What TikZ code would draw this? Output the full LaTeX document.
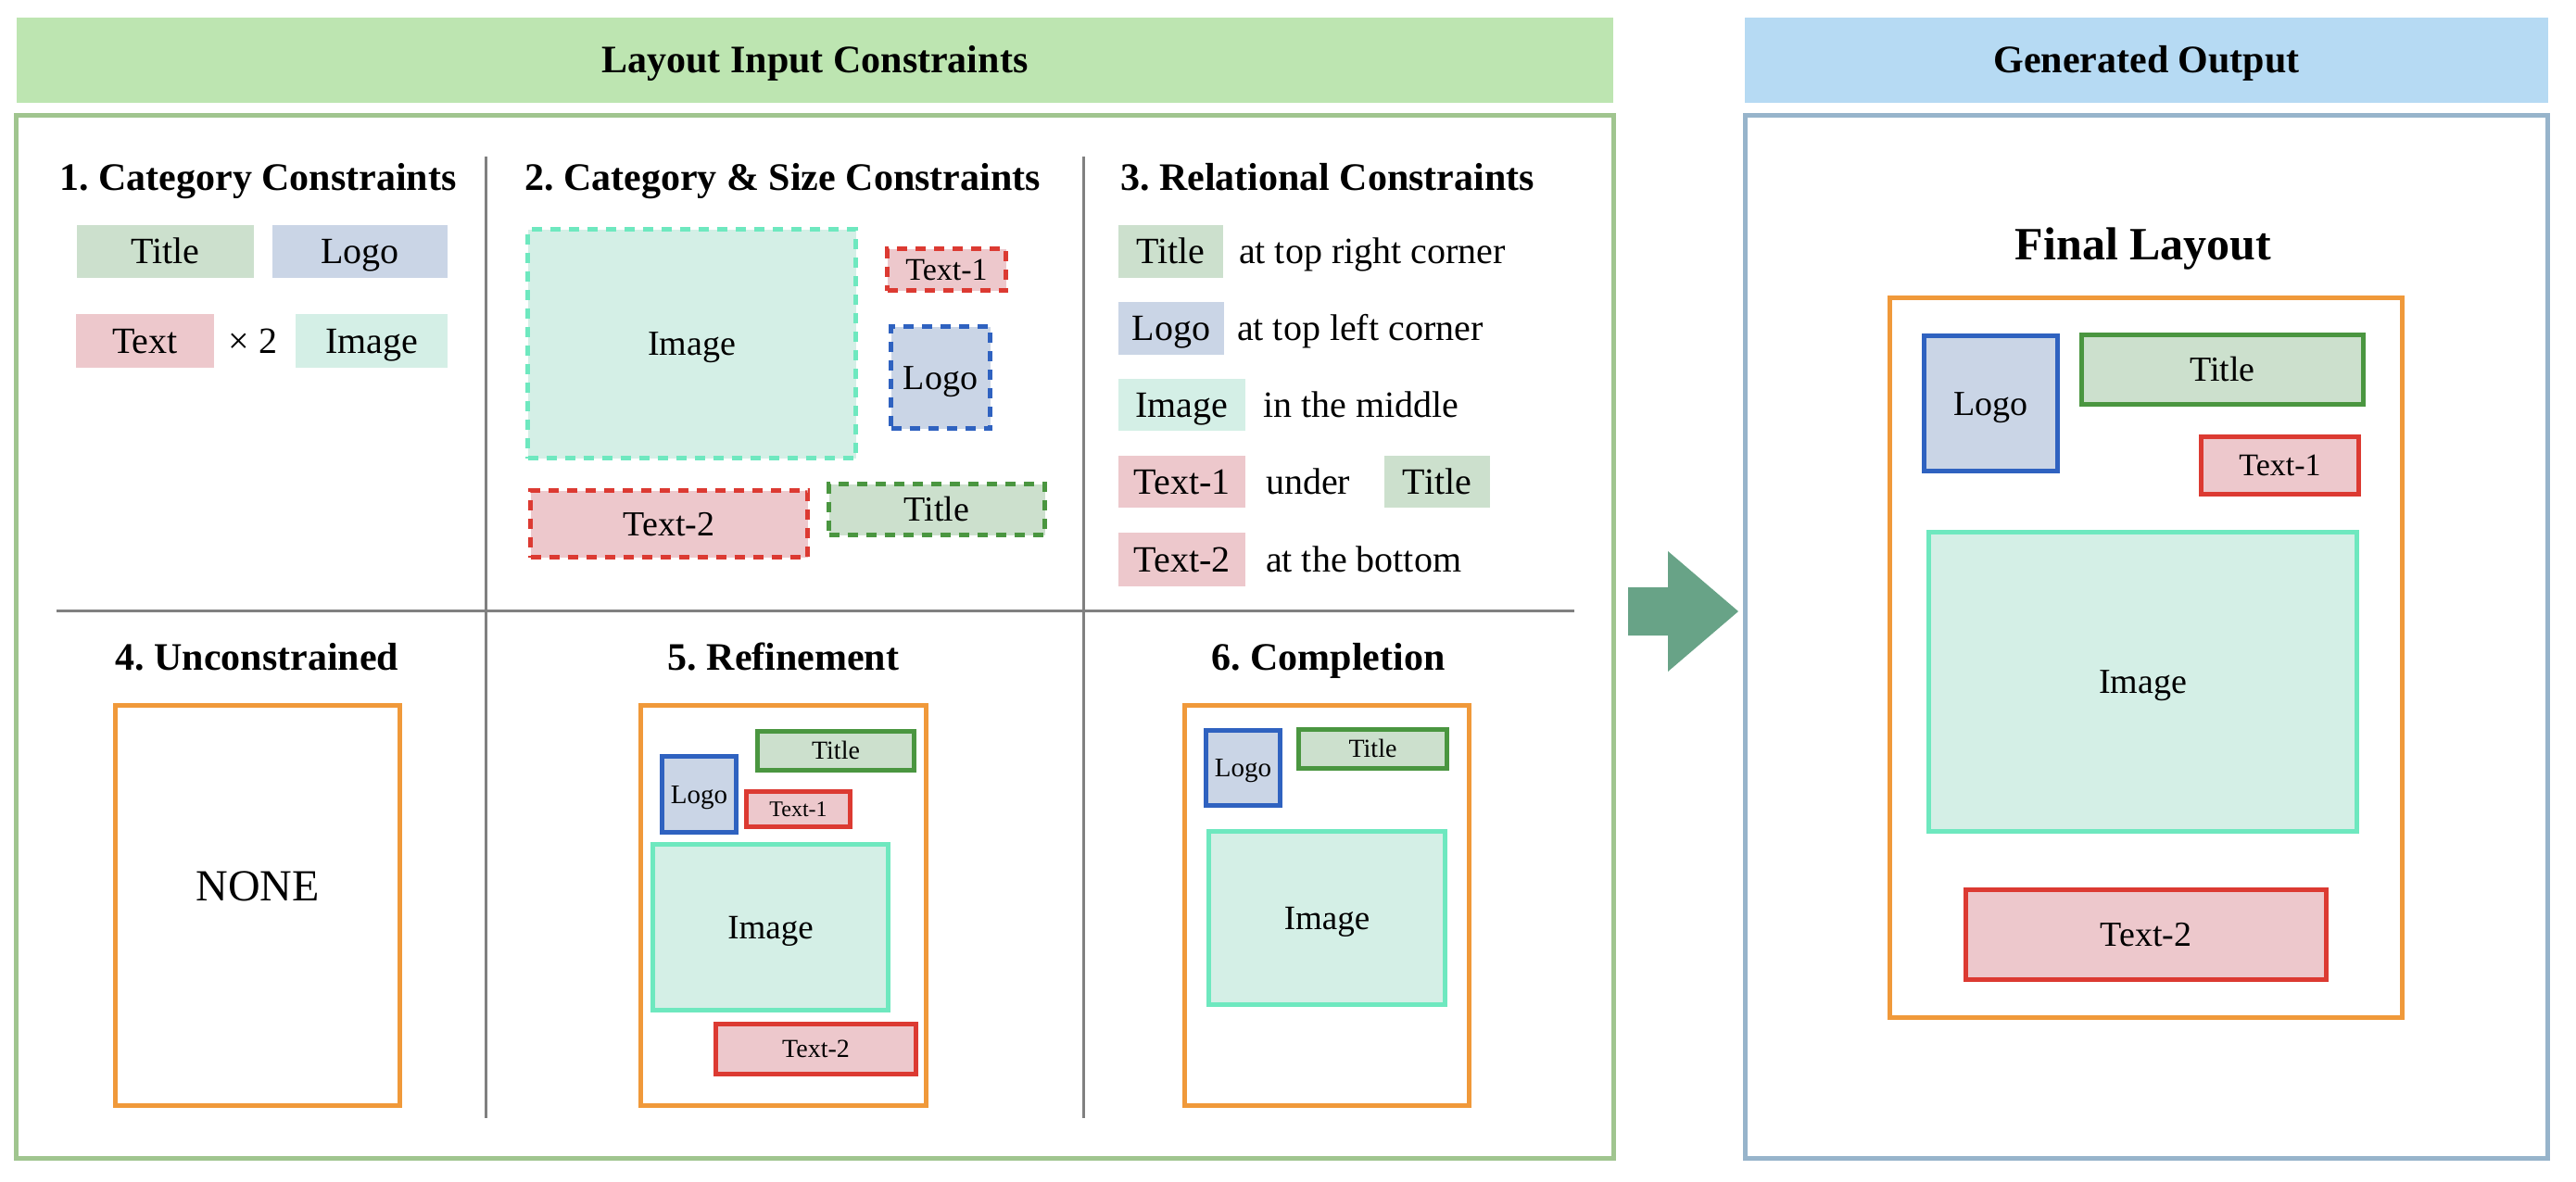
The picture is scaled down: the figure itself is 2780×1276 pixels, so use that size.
\documentclass[tikz,border=0pt]{standalone}
\usepackage{fontspec}
\setmainfont{Liberation Serif}
\frenchspacing
\definecolor{hdrgreen}{HTML}{BDE5B1}
\definecolor{boxgreen}{HTML}{A0C58F}
\definecolor{hdrblue}{HTML}{B6DAF3}
\definecolor{boxblue}{HTML}{97B4CB}
\definecolor{titlefill}{HTML}{CCE0CD}
\definecolor{titledraw}{HTML}{4A9640}
\definecolor{logofill}{HTML}{CAD5E6}
\definecolor{logodraw}{HTML}{2F62C0}
\definecolor{textfill}{HTML}{EDC8CC}
\definecolor{textdraw}{HTML}{DC3A32}
\definecolor{imgfill}{HTML}{D4EFE6}
\definecolor{imgdraw}{HTML}{6EE8BF}
\definecolor{orangec}{HTML}{F0993A}
\definecolor{arrowc}{HTML}{68A387}
\definecolor{divgray}{HTML}{808080}
% #1 name, #2 style, #3 x1, #4 y1, #5 x2, #6 y2, #7 text
\newcommand\lbox[7]{%
  \pgfmathsetmacro\bcx{(#3+#5)/2}\pgfmathsetmacro\bcy{(#4+#6)/2}%
  \pgfmathsetmacro\bw{#5-#3}\pgfmathsetmacro\bh{#6-#4}%
  \node[#2, minimum width=\bw pt, minimum height=\bh pt] (#1) at (\bcx,\bcy) {#7};}
\tikzset{
  base/.style={inner sep=0pt, outer sep=0pt, align=center, text=black},
  f24/.style={font=\fontsize{24}{26}\selectfont, text height=15.9pt, text depth=0pt},
  f28/.style={font=\fontsize{28}{30}\selectfont, text height=18.5pt, text depth=0pt},
  f29/.style={font=\fontsize{29}{31}\selectfont, text height=19.2pt, text depth=0pt},
  f34/.style={font=\fontsize{34}{36}\selectfont, text height=22.5pt, text depth=0pt},
  f37/.style={font=\fontsize{37}{39}\selectfont, text height=24.5pt, text depth=0pt},
  f38/.style={font=\fontsize{38}{40}\selectfont, text height=25.2pt, text depth=0pt},
  f40/.style={font=\fontsize{40}{44}\selectfont, text height=26.5pt, text depth=0pt},
  f48/.style={font=\fontsize{48}{52}\selectfont, text height=31.8pt, text depth=0pt},
  b42/.style={font=\fontsize{42}{46}\selectfont\bfseries, text height=27.8pt, text depth=0pt},
  b50/.style={font=\fontsize{50}{54}\selectfont\bfseries, text height=33.1pt, text depth=0pt},
  lbl/.style={base, f40},
  heading/.style={base, b42},
  tagT/.style={base, f40, fill=titlefill},
  tagL/.style={base, f40, fill=logofill},
  tagX/.style={base, f40, fill=textfill},
  tagI/.style={base, f40, fill=imgfill},
  solT/.style={base, fill=titlefill, draw=titledraw, line width=5pt},
  solL/.style={base, fill=logofill, draw=logodraw, line width=5pt},
  solX/.style={base, fill=textfill, draw=textdraw, line width=5pt},
  solI/.style={base, fill=imgfill, draw=imgdraw, line width=5pt},
  dsh/.style={dash pattern=on 11pt off 9pt},
  canvas/.style={base, draw=orangec, line width=5pt},
  divider/.style={draw=divgray, line width=3pt},
  vdivider/.style={draw=divgray, line width=2.5pt},
}
\begin{document}
\begin{tikzpicture}[x=1pt, y=-1pt]
\useasboundingbox (0,0) rectangle (2780,1276);
% headers
\lbox{hdrL}{base, b42, fill=hdrgreen}{18}{19}{1741}{111}{Layout Input Constraints}
\lbox{hdrR}{base, b42, fill=hdrblue}{1883}{19}{2750}{111}{Generated Output}
% outer frames
\lbox{frameL}{base, draw=boxgreen, line width=5pt}{17.5}{124.5}{1741.5}{1250.5}{}
\lbox{frameR}{base, draw=boxblue, line width=5pt}{1883.5}{124.5}{2749.5}{1250.5}{}
% dividers
\draw[vdivider] (524.5,169) -- (524.5,1207);
\draw[vdivider] (1169.5,169) -- (1169.5,1207);
\draw[divider] (61,659) -- (1699,659);
% headings
\node[heading] (h1) at (278.5,192) {1. Category Constraints};
\node[heading] (h2) at (844.5,192) {2. Category \& Size Constraints};
\node[heading] (h3) at (1432.5,192) {3. Relational Constraints};
\node[heading] (h4) at (277.5,709.5) {4. Unconstrained};
\node[heading] (h5) at (845.5,709.5) {5. Refinement};
\node[heading] (h6) at (1433.5,709.5) {6. Completion};
% panel 1
\lbox{p1title}{tagT}{83}{243}{274}{300}{Title}
\lbox{p1logo}{tagL}{294}{243}{483}{300}{Logo}
\lbox{p1text}{tagX}{82}{339}{231}{397}{Text}
\node[lbl] (p1times) at (273,368) {× 2};
\lbox{p1img}{tagI}{319}{339}{483}{397}{Image}
% panel 2
\lbox{p2img}{solI, dsh, f38}{569.5}{247.5}{923.5}{494.5}{Image}
\lbox{p2text1}{solX, dsh, f34}{957.5}{268.5}{1085.5}{313.5}{Text-1}
\lbox{p2logo}{solL, dsh, f38}{961.5}{352.5}{1068.5}{462.5}{Logo}
\lbox{p2text2}{solX, dsh, f38}{572.5}{529.5}{871.5}{601.5}{Text-2}
\lbox{p2title}{solT, dsh, f38}{894.5}{522.5}{1127.5}{577.5}{Title}
% panel 3
\lbox{p3title}{tagT}{1207}{243}{1320}{300}{Title}
\node[lbl, anchor=west] (p3r1) at (1337,271.5) {at top right corner};
\lbox{p3logo}{tagL}{1207}{326}{1321}{383}{Logo}
\node[lbl, anchor=west] (p3r2) at (1335,354.5) {at top left corner};
\lbox{p3img}{tagI}{1207}{409}{1344}{465}{Image}
\node[lbl, anchor=west] (p3r3) at (1363,437) {in the middle};
\lbox{p3text1}{tagX}{1207}{492}{1344}{548}{Text-1}
\node[lbl, anchor=west] (p3r4) at (1366,520) {under};
\lbox{p3title2}{tagT}{1494}{492}{1608}{548}{Title}
\lbox{p3text2}{tagX}{1207}{575}{1344}{633}{Text-2}
\node[lbl, anchor=west] (p3r5) at (1366,604) {at the bottom};
% panel 4
\lbox{p4canvas}{canvas}{124.5}{761.5}{431.5}{1193.5}{}
\node[base, f48] (p4none) at (278,957) {NONE};
% panel 5
\lbox{p5canvas}{canvas}{691.5}{761.5}{999.5}{1193.5}{}
\lbox{p5title}{solT, f28}{817.5}{789.5}{986.5}{831.5}{Title}
\lbox{p5logo}{solL, f29}{714.5}{816.5}{794.5}{898.5}{Logo}
\lbox{p5text1}{solX, f24}{805.5}{854.5}{917.5}{892.5}{Text-1}
\lbox{p5img}{solI, f37}{704.5}{911.5}{958.5}{1090.5}{Image}
\lbox{p5text2}{solX, f28}{772.5}{1105.5}{988.5}{1159.5}{Text-2}
% panel 6
\lbox{p6canvas}{canvas}{1278.5}{761.5}{1585.5}{1193.5}{}
\lbox{p6logo}{solL, f29}{1301.5}{788.5}{1381.5}{869.5}{Logo}
\lbox{p6title}{solT, f28}{1401.5}{787.5}{1561.5}{829.5}{Title}
\lbox{p6img}{solI, f37}{1304.5}{897.5}{1559.5}{1084.5}{Image}
% arrow
\fill[arrowc] (1757,634) -- (1800,634) -- (1800,595) -- (1876,660) -- (1800,725) -- (1800,686) -- (1757,686) -- cycle;
% final layout
\node[base, b50] (finalhd) at (2313,264) {Final Layout};
\lbox{fcanvas}{canvas}{2039.5}{321.5}{2592.5}{1098.5}{}
\lbox{flogo}{solL, f38}{2076.5}{362.5}{2220.5}{508.5}{Logo}
\lbox{ftitle}{solT, f38}{2246.5}{361.5}{2550.5}{436.5}{Title}
\lbox{ftext1}{solX, f34}{2375.5}{471.5}{2545.5}{533.5}{Text-1}
\lbox{fimg}{solI, f38}{2081.5}{574.5}{2543.5}{897.5}{Image}
\lbox{ftext2}{solX, f38}{2121.5}{960.5}{2510.5}{1057.5}{Text-2}
\end{tikzpicture}
\end{document}
